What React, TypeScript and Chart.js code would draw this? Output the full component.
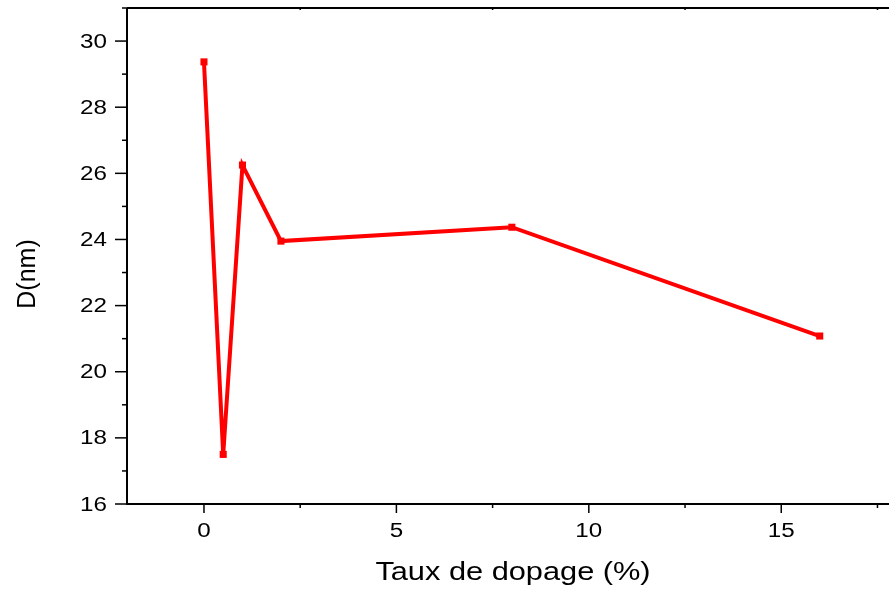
import React, { useEffect, useRef } from "react";
import { Chart, registerables } from "chart.js";

Chart.register(...registerables);

const dopingRates = [0, 0.5, 1, 2, 8, 16];
const crystalliteSize = [29.37, 17.5, 26.25, 23.95, 24.37, 21.08];
const xMajorTicks = [0, 5, 10, 15];
const yMajorTicks = [16, 18, 20, 22, 24, 26, 28, 30];
const xTitle = "Taux de dopage (%)";
const yTitle = "D(nm)";

const FONT = "'Liberation Sans', Arial, sans-serif";
const STRETCH = 1.21;

function stretchedText(ctx: any, text: string, x: number, y: number, align: string, stretch: number) {
  ctx.save();
  ctx.translate(x, y);
  ctx.scale(stretch, 1);
  ctx.textAlign = align;
  ctx.fillText(text, 0, 0);
  ctx.restore();
}

const layoutPlugin = {
  id: "fixedArea",
  afterLayout(chart: any) {
    const area = { left: 127, right: 889, top: 8, bottom: 504 };
    const xs = chart.scales.x;
    const ys = chart.scales.y;
    xs.left = area.left;
    xs.right = area.right;
    xs.width = area.right - area.left;
    xs.top = area.bottom;
    ys.top = area.top;
    ys.bottom = area.bottom;
    ys.height = area.bottom - area.top;
    ys.right = area.left;
    xs.configure();
    ys.configure();
    chart.chartArea = {
      left: area.left,
      right: area.right,
      top: area.top,
      bottom: area.bottom,
      width: area.right - area.left,
      height: area.bottom - area.top,
    };
  },
};

const axesPlugin = {
  id: "originAxes",
  afterDraw(chart: any) {
    const { ctx, chartArea, scales } = chart;
    const xs = scales.x;
    const ys = scales.y;
    ctx.save();
    ctx.strokeStyle = "#000";
    ctx.lineWidth = 2;
    ctx.beginPath();
    ctx.moveTo(chartArea.left, chartArea.top);
    ctx.lineTo(chartArea.left, chartArea.bottom);
    ctx.lineTo(chartArea.right, chartArea.bottom);
    ctx.moveTo(chartArea.left, chartArea.top);
    ctx.lineTo(chartArea.right, chartArea.top);
    ctx.stroke();
    ctx.lineWidth = 1.5;
    for (let v = -2.5; v <= 20; v += 2.5) {
      const px = xs.getPixelForValue(v);
      if (px < chartArea.left - 0.5 || px > chartArea.right + 0.5) continue;
      const major = Math.abs(v % 5) < 1e-6;
      ctx.beginPath();
      ctx.moveTo(px, chartArea.bottom);
      ctx.lineTo(px, chartArea.bottom + (major ? 9 : 4));
      ctx.stroke();
      if (!major) {
        ctx.beginPath();
        ctx.moveTo(px, chartArea.top);
        ctx.lineTo(px, chartArea.top + 2);
        ctx.stroke();
      }
    }
    for (let v = 16; v <= 31; v += 1) {
      const py = ys.getPixelForValue(v);
      const major = v % 2 === 0;
      ctx.beginPath();
      ctx.moveTo(chartArea.left, py);
      ctx.lineTo(chartArea.left - (major ? 12 : 5), py);
      ctx.stroke();
    }
    ctx.fillStyle = "#000";
    ctx.textBaseline = "middle";
    ctx.font = `20px ${FONT}`;
    for (const v of yMajorTicks) {
      stretchedText(ctx, String(v), 107, ys.getPixelForValue(v) + 1, "right", STRETCH);
    }
    for (const v of xMajorTicks) {
      stretchedText(ctx, String(v), xs.getPixelForValue(v), 531, "center", STRETCH);
    }
    ctx.font = `25px ${FONT}`;
    stretchedText(ctx, xTitle, 513, 573, "center", 1.23);
    ctx.save();
    ctx.translate(28, 274);
    ctx.rotate(-Math.PI / 2);
    ctx.font = `25px ${FONT}`;
    ctx.textAlign = "center";
    ctx.fillText(yTitle, 0, 0);
    ctx.restore();
    ctx.restore();
  },
};

export default function App() {
  const ref = useRef<HTMLCanvasElement | null>(null);
  useEffect(() => {
    if (!ref.current) return;
    const chart = new Chart(ref.current, {
      type: "scatter",
      data: {
        datasets: [
          {
            data: dopingRates.map((x, i) => ({ x, y: crystalliteSize[i] })),
            showLine: true,
            borderColor: "#ff0000",
            backgroundColor: "#ff0000",
            borderWidth: 4,
            pointStyle: "rect",
            pointRadius: 5,
            pointBorderWidth: 0,
            tension: 0,
          },
        ],
      },
      plugins: [layoutPlugin, axesPlugin],
      options: {
        animation: false,
        responsive: false,
        maintainAspectRatio: false,
        layout: { padding: 0 },
        plugins: { legend: { display: false }, tooltip: { enabled: false } },
        scales: {
          x: {
            type: "linear",
            min: -2,
            max: 17.8,
            grid: { display: false, drawTicks: false },
            border: { display: false },
            ticks: { display: false },
          },
          y: {
            type: "linear",
            min: 16,
            max: 31,
            grid: { display: false, drawTicks: false },
            border: { display: false },
            ticks: { display: false },
          },
        },
      },
    });
    return () => chart.destroy();
  }, []);
  return (
    <div style={{ position: "fixed", left: 0, top: 0, width: 889, height: 590, background: "#fff" }}>
      <canvas ref={ref} width={889} height={590} style={{ display: "block" }} />
    </div>
  );
}
